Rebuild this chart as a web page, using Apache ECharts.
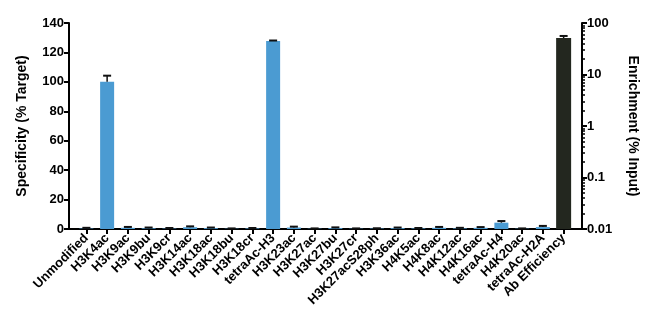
<!DOCTYPE html>
<html><head><meta charset="utf-8">
<script src="https://cdn.jsdelivr.net/npm/echarts@6/dist/echarts.min.js"></script>
<style>html,body{margin:0;padding:0;background:#fff}#c{width:650px;height:322px}</style>
</head><body><div id="c"></div>
<script>
var categories = ["Unmodified","H3K4ac","H3K9ac","H3K9bu","H3K9cr","H3K14ac","H3K18ac","H3K18bu","H3K18cr","tetraAc-H3","H3K23ac","H3K27ac","H3K27bu","H3K27cr","H3K27acS28ph","H3K36ac","H4K5ac","H4K8ac","H4K12ac","H4K16ac","tetraAc-H4","H4K20ac","tetraAc-H2A","Ab Efficiency"];
var specificity = [0.3,100,0.8,0.5,0.3,1.2,0.6,0.2,0.4,127.8,1.0,0.2,0.6,0.2,0.3,0.6,0.4,0.8,0.4,0.8,4.3,0.2,1.3,null];
var specificityErr = [0.5,4.2,0.6,0.5,0.4,0.6,0.4,0.2,0.3,0.3,0.6,0.2,0.5,0.2,0.2,0.4,0.3,0.6,0.4,0.5,1.1,0.2,0.8,null];
var enrichment = 51;
var enrichmentErr = 5;
var leftTicks = {min:0, max:140, interval:20};
var rightTicks = {min:0.01, max:100};

var FONT = '"Liberation Sans", Arial, sans-serif';
var n = categories.length;
var blueData = specificity.map(function(v){return v===null?'-':v;});
var errLeft = [];
specificity.forEach(function(v,i){ if(v!==null) errLeft.push([i,v,specificityErr[i]]); });
var darkBar = [[n-1, enrichment]];
var errRight = [[n-1, enrichment, enrichmentErr]];

function errRender(params, api){
  var i = api.value(0), v = api.value(1), e = api.value(2);
  var p0 = api.coord([i, v]);
  var p1 = api.coord([i, v+e]);
  var hw = 4;
  return {type:'group', children:[
    {type:'line', shape:{x1:p0[0],y1:p0[1],x2:p1[0],y2:p1[1]}, style:{stroke:'#111',lineWidth:1.5}},
    {type:'line', shape:{x1:p1[0]-hw,y1:p1[1],x2:p1[0]+hw,y2:p1[1]}, style:{stroke:'#111',lineWidth:2}}
  ]};
}
function logBarRender(params, api){
  var i = api.value(0), v = api.value(1);
  var top = api.coord([i, v]);
  var base = api.coord([i, rightTicks.min]);
  var w = 15;
  return {type:'rect', shape:{x:top[0]-w/2, y:top[1], width:w, height:base[1]-top[1]},
          style:{fill:'#23271f'}};
}

var chart = echarts.init(document.getElementById('c'), null, {renderer:'canvas'});
chart.setOption({
  animation:false,
  backgroundColor:'#fff',
  textStyle:{fontFamily:FONT},
  grid:[
    {left:76, right:76, top:23, bottom:93},
    {left:69, right:68, top:23, bottom:93}
  ],
  xAxis:[
    {type:'category', gridIndex:0, data:categories,
     axisLine:{show:true, lineStyle:{color:'#000', width:2}},
     axisTick:{show:true, alignWithLabel:true, length:5, lineStyle:{color:'#000', width:2}},
     axisLabel:{rotate:45, interval:0, margin:7, color:'#000', fontWeight:'bold', fontSize:13, fontFamily:FONT},
     splitLine:{show:false}},
    {type:'category', gridIndex:1, data:[''],
     axisLine:{show:true, lineStyle:{color:'#000', width:2}},
     axisTick:{show:false}, axisLabel:{show:false}, splitLine:{show:false}}
  ],
  yAxis:[
    {type:'value', gridIndex:0, min:leftTicks.min, max:leftTicks.max, show:false, splitLine:{show:false}},
    {type:'log', gridIndex:0, min:rightTicks.min, max:rightTicks.max, logBase:10, show:false, splitLine:{show:false}},
    {type:'value', gridIndex:1, position:'left', min:leftTicks.min, max:leftTicks.max, interval:leftTicks.interval,
     name:'Specificity (% Target)', nameLocation:'middle', nameGap:40,
     nameTextStyle:{color:'#000', fontWeight:'bold', fontSize:14, fontFamily:FONT},
     axisLine:{show:true, lineStyle:{color:'#000', width:2}},
     axisTick:{show:true, length:5, lineStyle:{color:'#000', width:2}},
     axisLabel:{color:'#000', fontWeight:'bold', fontSize:13, margin:5, fontFamily:FONT},
     splitLine:{show:false}},
    {type:'log', gridIndex:1, position:'right', min:rightTicks.min, max:rightTicks.max, logBase:10,
     name:'Enrichment (% Input)', nameLocation:'middle', nameGap:44, nameRotate:-90,
     nameTextStyle:{color:'#000', fontWeight:'bold', fontSize:14, fontFamily:FONT},
     axisLine:{show:true, lineStyle:{color:'#000', width:2}},
     axisTick:{show:true, length:5, lineStyle:{color:'#000', width:2}},
     minorTick:{show:true, splitNumber:9, length:3, lineStyle:{color:'#000', width:1.5}},
     axisLabel:{color:'#000', fontWeight:'bold', fontSize:13, margin:5, fontFamily:FONT,
       formatter:function(v){ return String(+v.toPrecision(6)); }},
     splitLine:{show:false}}
  ],
  series:[
    {type:'bar', xAxisIndex:0, yAxisIndex:0, data:blueData, barWidth:14,
     itemStyle:{color:'#4b9bd2'}},
    {type:'custom', xAxisIndex:0, yAxisIndex:1, data:darkBar, renderItem:logBarRender, z:3},
    {type:'custom', xAxisIndex:0, yAxisIndex:0, data:errLeft, renderItem:errRender, z:5},
    {type:'custom', xAxisIndex:0, yAxisIndex:1, data:errRight, renderItem:errRender, z:5}
  ]
});
</script>
</body></html>
